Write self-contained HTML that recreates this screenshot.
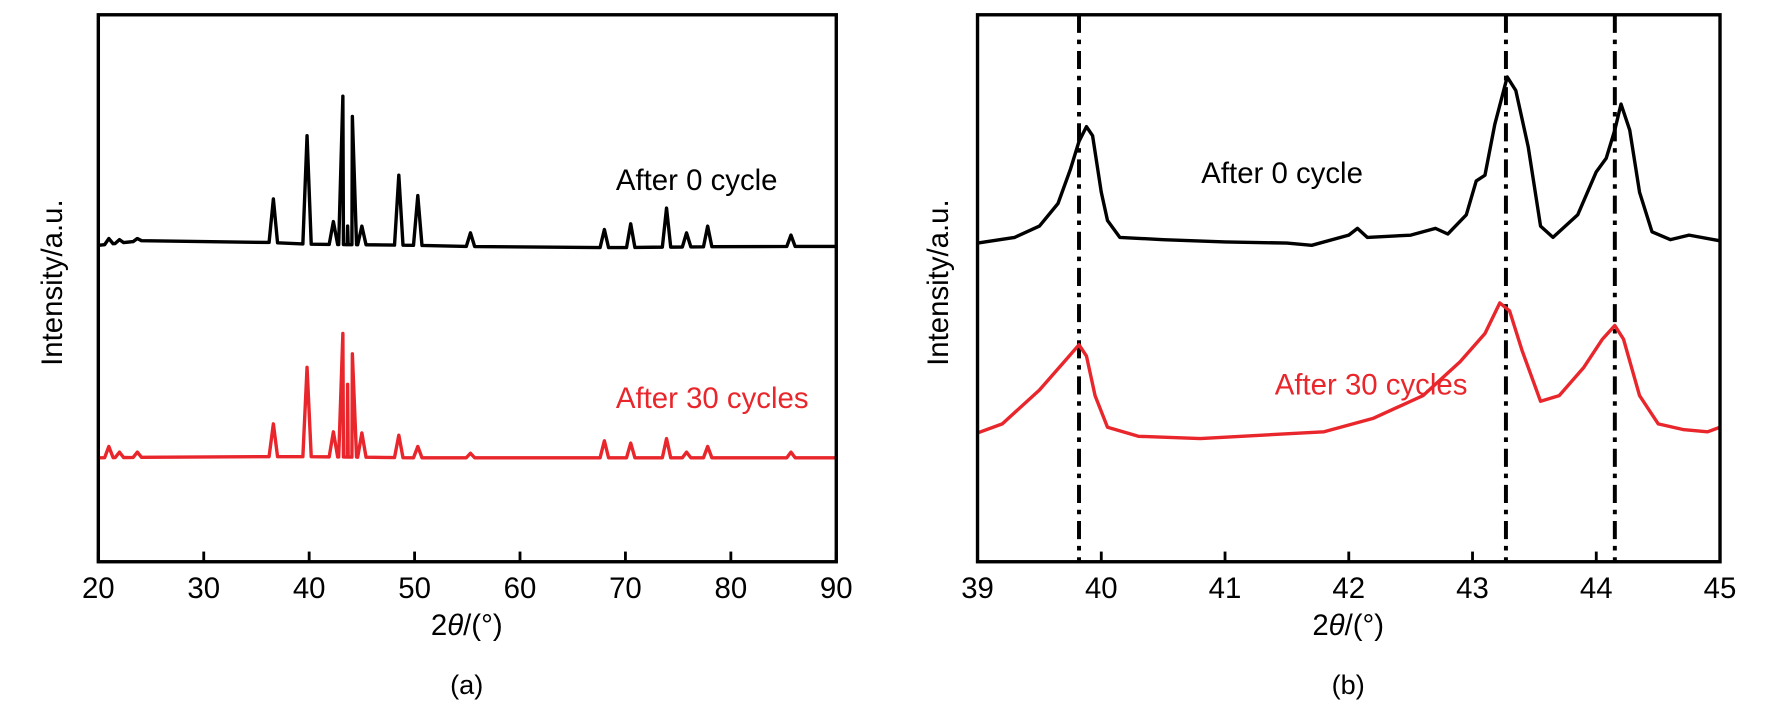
<!DOCTYPE html>
<html><head><meta charset="utf-8"><style>
body{margin:0;background:#fff;}
svg{display:block;font-family:"Liberation Sans",Arial,sans-serif;}
</style></head><body>
<svg id="fig" width="1772" height="711" viewBox="0 0 1568 629"></svg>
<script>
// ---- Panel (a) data ----
const aXTicks = [20,30,40,50,60,70,80,90];
const aBlackBaseX = [20,25,30,35,40,50,60,70,80,90];
const aBlackBaseY = [283,288,292,286,284,283,281,281,282,282];
const aRedBaseX = [20,30,40,50,60,70,80,90];
const aRedBaseY = [95,96,96,95,95,95,95,95];
const aPeakPos = [21,22,23.7,36.6,39.8,42.3,43.2,43.65,44.1,45,48.5,50.3,55.3,68,70.5,73.9,75.8,77.8,85.7];
const aBlackPeakH = [289,288,289,324,380,304,415,300,397,300,345,327,294,297,302,316,294,300,292];
const aRedPeakH = [105,100,100,125,175,118,205,160,187,117,115,105,99,110,108,112,100,105,100];
// ---- Panel (b) data ----
const bXTicks = [39,40,41,42,43,44,45];
const bRefLines = [39.82,43.27,44.15];
const bBlackX = [39,39.3,39.5,39.65,39.75,39.82,39.88,39.93,40.0,40.05,40.15,40.5,41,41.5,41.7,42.0,42.07,42.15,42.5,42.7,42.8,42.95,43.03,43.1,43.18,43.28,43.35,43.45,43.55,43.65,43.85,44.0,44.08,44.15,44.2,44.27,44.35,44.45,44.6,44.75,45];
const bBlackY = [285,290,300,320,350,375,388,380,330,305,290,288,286,285,283,292,298,290,292,298,293,310,340,345,390,432,420,370,300,290,310,348,360,385,408,385,330,295,288,292,287];
const bRedX = [39,39.2,39.5,39.7,39.82,39.88,39.95,40.05,40.3,40.8,41.3,41.8,42.2,42.6,42.9,43.1,43.22,43.3,43.4,43.55,43.7,43.9,44.05,44.15,44.22,44.35,44.5,44.7,44.9,45];
const bRedY = [117,125,155,180,195,185,150,122,114,112,115,118,130,150,180,205,232,225,190,145,150,175,200,212,200,150,125,120,118,122];

const NS="http://www.w3.org/2000/svg";
const svg=document.getElementById('fig');
function mk(tag,attrs,parent){const e=document.createElementNS(NS,tag);for(const k in attrs)e.setAttribute(k,attrs[k]);(parent||svg).appendChild(e);return e;}
function txt(s,attrs,parent){const e=mk('text',attrs,parent);e.textContent=s;return e;}
function interp(xs,ys,x){for(let i=1;i<xs.length;i++){if(x<=xs[i]){const t=(x-xs[i-1])/(xs[i]-xs[i-1]);return ys[i-1]+t*(ys[i]-ys[i-1]);}}return ys[ys.length-1];}

const plotTop=13,plotBot=497;
const yS=v=>500-v;

function frame(g,x0,x1,ticks,xS,name){
  const r=mk('rect',{x:x0,y:plotTop,width:x1-x0,height:plotBot-plotTop,fill:'none',stroke:'#000','stroke-width':3},g);
  
  
  ticks.forEach(tv=>{
    const px=xS(tv);
    const l=mk('line',{x1:px,x2:px,y1:plotBot,y2:plotBot-9,stroke:'#000','stroke-width':2.5},g);
    
    
    const tl=txt(String(tv),{x:px,y:529,'font-size':26,'text-anchor':'middle'},g);
    
    
  });
}

// Panel a
const gA=mk('g',{});


const aX0=87,aX1=740;
const aXS=v=>aX0+(v-20)/(70)*(aX1-aX0);
function peakSeries(bx,by,ph){
  const pts=[];const w=0.4;
  let xs=[20];
  aPeakPos.forEach(p=>{xs.push(p-w,p,p+w);});
  xs.push(90);
  xs.sort((a,b)=>a-b);
  xs.forEach(x=>{
    const i=aPeakPos.indexOf(x);
    const v=i>=0?ph[i]:interp(bx,by,x);
    pts.push(aXS(x).toFixed(1)+','+yS(v).toFixed(1));
  });
  return pts.join(' ');
}
const aBl=mk('polyline',{points:peakSeries(aBlackBaseX,aBlackBaseY,aBlackPeakH),fill:'none',stroke:'#000','stroke-width':3,'stroke-linejoin':'round'},gA);


const aRd=mk('polyline',{points:peakSeries(aRedBaseX,aRedBaseY,aRedPeakH),fill:'none',stroke:'#e8262b','stroke-width':3,'stroke-linejoin':'round'},gA);


frame(gA,aX0,aX1,aXTicks,aXS,'panel-a');
let t;
t=txt('After 0 cycle',{x:545,y:168,'font-size':26,fill:'#000'},gA);


t=txt('After 30 cycles',{x:545,y:361,'font-size':26,fill:'#e8262b'},gA);


t=txt('Intensity/a.u.',{x:0,y:0,'font-size':26,'text-anchor':'middle',transform:'translate(55,250) rotate(-90)'},gA);


t=txt('',{x:413,y:562,'font-size':26,'text-anchor':'middle'},gA);
t.innerHTML='2<tspan font-style="italic">θ</tspan>/(°)';


t=txt('(a)',{x:413,y:614,'font-size':24,'text-anchor':'middle'},gA);



// Panel b
const gB=mk('g',{});


const bX0=865,bX1=1522;
const bXS=v=>bX0+(v-39)/6*(bX1-bX0);
bRefLines.forEach(v=>{
  const l=mk('line',{x1:bXS(v),x2:bXS(v),y1:plotTop,y2:plotBot,stroke:'#000','stroke-width':3.5,'stroke-dasharray':'16 6 4 6'},gB);
  
  
});
function line(xs,ys){return xs.map((x,i)=>bXS(x).toFixed(1)+','+yS(ys[i]).toFixed(1)).join(' ');}
const bBl=mk('polyline',{points:line(bBlackX,bBlackY),fill:'none',stroke:'#000','stroke-width':3,'stroke-linejoin':'round'},gB);


const bRd=mk('polyline',{points:line(bRedX,bRedY),fill:'none',stroke:'#e8262b','stroke-width':3,'stroke-linejoin':'round'},gB);


frame(gB,bX0,bX1,bXTicks,bXS,'panel-b');
t=txt('After 0 cycle',{x:1063,y:162,'font-size':26,fill:'#000'},gB);


t=txt('After 30 cycles',{x:1128,y:349,'font-size':26,fill:'#e8262b'},gB);


t=txt('Intensity/a.u.',{x:0,y:0,'font-size':26,'text-anchor':'middle',transform:'translate(839,250) rotate(-90)'},gB);


t=txt('',{x:1193,y:562,'font-size':26,'text-anchor':'middle'},gB);
t.innerHTML='2<tspan font-style="italic">θ</tspan>/(°)';


t=txt('(b)',{x:1193,y:614,'font-size':24,'text-anchor':'middle'},gB);


</script>
</body></html>
